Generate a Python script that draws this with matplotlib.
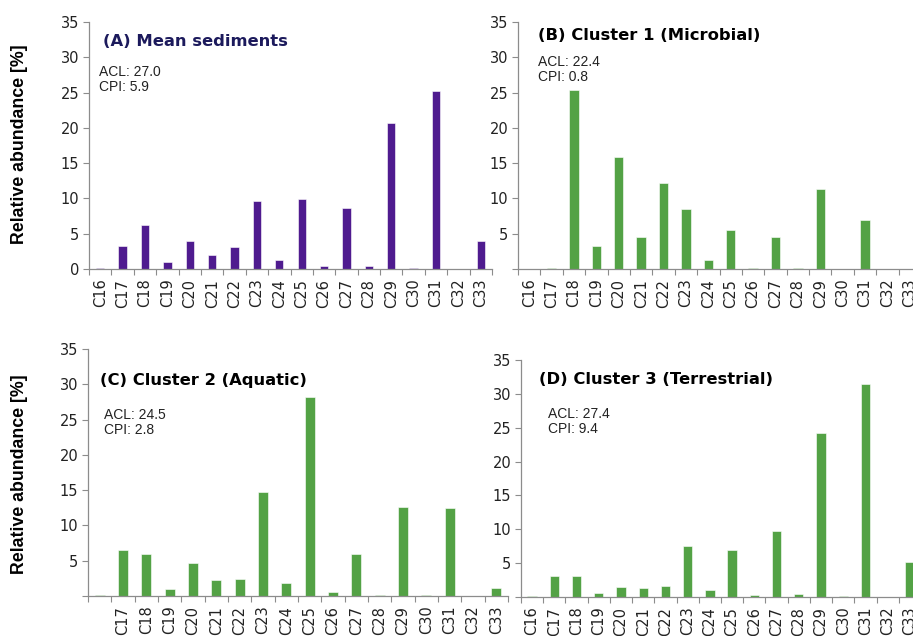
import numpy as np
import matplotlib
matplotlib.use("Agg")
import matplotlib.pyplot as plt

W, H = 913, 636

carbons = ["C%d" % n for n in range(16, 34)]

mean_sed = [0.2, 3.25, 6.2, 0.95, 3.9, 2.0, 3.1, 9.6, 1.3, 9.85,
            0.4, 8.6, 0.4, 20.7, 0.2, 25.2, 0.0, 4.0]
cluster1 = [0.0, 0.1, 25.35, 3.2, 15.85, 4.6, 12.2, 8.5, 1.3, 5.5,
            0.1, 4.6, 0.1, 11.3, 0.0, 6.95, 0.0, 0.0]
cluster2 = [0.1, 6.5, 5.9, 0.95, 4.7, 2.2, 2.45, 14.8, 1.85, 28.25,
            0.55, 6.0, 0.1, 12.65, 0.1, 12.5, 0.0, 1.2]
cluster3 = [0.15, 3.1, 3.1, 0.6, 1.5, 1.4, 1.6, 7.5, 1.1, 7.0,
            0.25, 9.75, 0.4, 24.15, 0.15, 31.4, 0.0, 5.2]

titles = ["(A) Mean sediments", "(B) Cluster 1 (Microbial)",
          "(C) Cluster 2 (Aquatic)", "(D) Cluster 3 (Terrestrial)"]
acl = ["27.0", "22.4", "24.5", "27.4"]
cpi = ["5.9", "0.8", "2.8", "9.4"]

PURPLE = "#4f1b8f"
GREEN = "#53a245"
AXIS = "#8c8c8c"


def px(x, y):
    return x / W, 1 - y / H


fig = plt.figure(figsize=(W / 100, H / 100), dpi=100)

# axes boxes in pixels: left, top(35), bottom(0), width
boxes = [
    (89, 22, 269, 403),
    (518, 22, 269, 403),
    (88, 349, 596, 420),
    (521, 360, 597, 400),
]
series = [mean_sed, cluster1, cluster2, cluster3]
colors = [PURPLE, GREEN, GREEN, GREEN]
widths = [0.37, 0.42, 0.42, 0.42]
title_pos = [(103, 42), (538, 35), (100, 380), (539, 379)]
title_col = ["#1c1a5c", "black", "black", "black"]
note_pos = [(99, 65), (538, 55), (104, 408), (548, 407)]

x = np.arange(len(carbons))
for i, (l, t, b, w) in enumerate(boxes):
    x0, y0 = px(l, b)
    ax = fig.add_axes([x0, y0, w / W, (b - t) / H])
    ax.bar(x, series[i], width=widths[i], color=colors[i],
           edgecolor="white", linewidth=0.4)
    ax.set_xlim(-0.5, len(carbons) - 0.5)
    ax.set_ylim(0, 35)
    for s in ["top", "right"]:
        ax.spines[s].set_visible(False)
    for s in ["left", "bottom"]:
        ax.spines[s].set_color(AXIS)
        ax.spines[s].set_linewidth(0.9)

    ax.set_yticks(np.arange(0, 36, 5))
    ylabels = [str(v) for v in range(0, 36, 5)]
    if i > 0:
        ylabels[0] = ""
    ax.set_yticklabels(ylabels)
    ax.tick_params(axis="y", length=4, color=AXIS, labelsize=10.5,
                   labelcolor="#222222", pad=3)

    # tick marks between categories, labels at centres
    ax.set_xticks(np.arange(-0.5, len(carbons), 1))
    ax.set_xticklabels([])
    ax.tick_params(axis="x", which="major", length=4, color=AXIS)
    xl = list(carbons)
    if i == 2:
        xl[0] = ""
    ax.set_xticks(x, minor=True)
    ax.set_xticklabels(xl, minor=True, rotation=90)
    ax.tick_params(axis="x", which="minor", length=0, labelsize=10.5,
                   labelcolor="#222222", pad=7)

    tx, ty = px(*title_pos[i])
    fig.text(tx, ty, titles[i], fontsize=11.8, fontweight="bold",
             color=title_col[i], va="center", ha="left",
             family="DejaVu Sans")
    nx, ny = px(*note_pos[i])
    fig.text(nx, ny, "ACL: %s\nCPI: %s" % (acl[i], cpi[i]), fontsize=10,
             va="top", ha="left", family="Liberation Sans",
             color="#222222", linespacing=1.1)

for yc in [144, 474]:
    lx, ly = px(20, yc)
    fig.text(lx, ly, "Relative abundance [%]", rotation=90, fontsize=12.8,
             fontweight="bold", family="Liberation Sans",
             ha="center", va="center")

fig.savefig("out.png", dpi=100)
